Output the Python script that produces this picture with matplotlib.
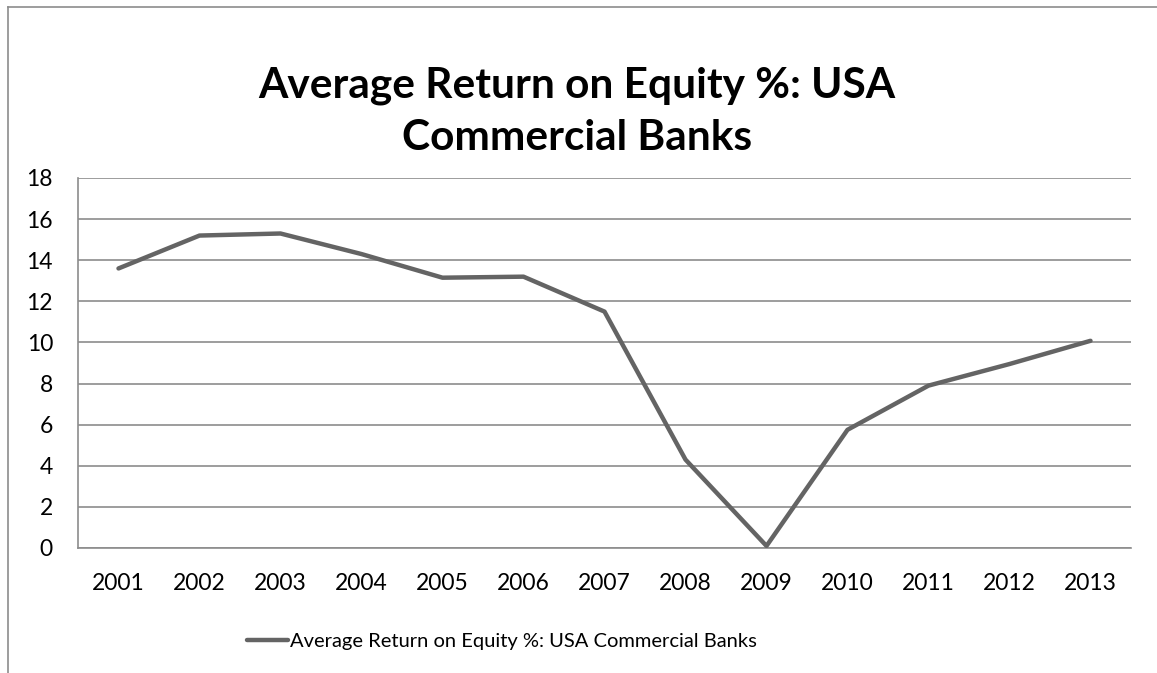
import matplotlib
matplotlib.use("Agg")
import matplotlib.pyplot as plt
import numpy as np

years = ["2001", "2002", "2003", "2004", "2005", "2006", "2007",
         "2008", "2009", "2010", "2011", "2012", "2013"]
roe = [13.6, 15.2, 15.3, 14.3, 13.15, 13.2, 11.5, 4.3, 0.1, 5.75, 7.9, 8.95, 10.08]
series_name = "Average Return on Equity %: USA Commercial Banks"
y_ticks = [0, 2, 4, 6, 8, 10, 12, 14, 16, 18]

plt.rcParams['font.family'] = ['Lato', 'DejaVu Sans']

W, H = 1157, 673
fig = plt.figure(figsize=(W / 100, H / 100), dpi=100)

# outer chart frame (top and left edges visible)
fig.add_artist(plt.Line2D([8 / W, 8 / W], [0, 1 - 7 / H], transform=fig.transFigure,
                          color="#8c8c8c", lw=1.2))
fig.add_artist(plt.Line2D([8 / W, 1], [1 - 7 / H, 1 - 7 / H], transform=fig.transFigure,
                          color="#8c8c8c", lw=1.2))

left, right, top, bottom = 78, 1131, 178, 548
ax = fig.add_axes([left / W, 1 - bottom / H, (right - left) / W, (bottom - top) / H])

x = np.arange(len(years))
line, = ax.plot(x, roe, color="#646464", lw=3.2, solid_capstyle="round",
                solid_joinstyle="round", label=series_name, zorder=3)

ax.set_xlim(-0.5, len(years) - 0.5)
ax.set_ylim(0, 18)
ax.set_yticks(y_ticks)
ax.set_xticks(x)
ax.set_xticklabels(years)
ax.grid(axis="y", color="#8c8c8c", lw=1.2)
ax.set_axisbelow(True)
for side in ["top", "right"]:
    ax.spines[side].set_visible(False)
for side in ["left", "bottom"]:
    ax.spines[side].set_color("#8c8c8c")
    ax.spines[side].set_linewidth(1.2)
ax.tick_params(length=0, labelsize=16.5, colors="black")
ax.tick_params(axis="x", pad=18)
ax.tick_params(axis="y", pad=18)

fig.text(577 / W, 1 - 112 / H, "Average Return on Equity %: USA\nCommercial Banks",
         ha="center", va="center", fontsize=30.5, fontweight="bold", linespacing=1.45)

leg = fig.legend(handles=[line], loc="center", bbox_to_anchor=(502 / W, 1 - 641 / H),
                 frameon=False, fontsize=14.5, handlelength=2.0, handletextpad=0.1)

fig.savefig("out.png", dpi=100)
